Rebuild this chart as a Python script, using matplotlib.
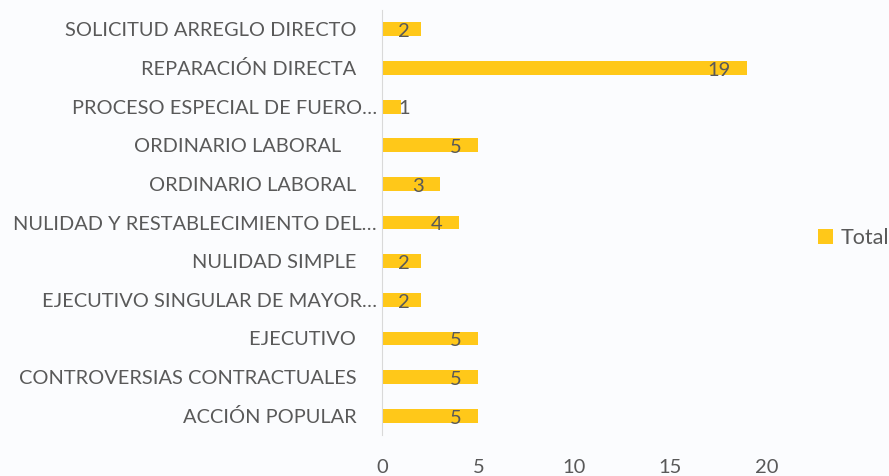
import numpy as np
import matplotlib.pyplot as plt

# datos (de arriba hacia abajo)
categorias = [
    "SOLICITUD ARREGLO DIRECTO    ",
    "REPARACIÓN DIRECTA    ",
    "PROCESO ESPECIAL DE FUERO…",
    "ORDINARIO LABORAL       ",
    "ORDINARIO LABORAL    ",
    "NULIDAD Y RESTABLECIMIENTO DEL…",
    "NULIDAD SIMPLE    ",
    "EJECUTIVO SINGULAR DE MAYOR…",
    "EJECUTIVO    ",
    "CONTROVERSIAS CONTRACTUALES    ",
    "ACCIÓN POPULAR    ",
]
totales = [2, 19, 1, 5, 3, 4, 2, 2, 5, 5, 5]
ticks_x = [0, 5, 10, 15, 20]

amarillo = "#FFC819"
gris = "#595959"
fondo = "#FBFCFE"

plt.rcParams['font.family'] = ['Lato', 'DejaVu Sans']

fig = plt.figure(figsize=(8.89, 4.76), dpi=100, facecolor=fondo)
ax = fig.add_axes([0.43, 0.086, 0.432, 0.893], facecolor=fondo)

y = np.arange(len(categorias))
ax.barh(y, totales, height=0.36, color=amarillo, label="Total")

# etiquetas de valor dentro del extremo (alineadas a la derecha)
for yi, v in zip(y, totales):
    ax.text(max(v - 0.85, 1.45), yi + 0.06, str(v), ha='right', va='center',
            fontsize=14.5, color=gris)

ax.set_yticks(y)
ax.set_yticklabels(categorias, fontsize=14.4, color=gris)
ax.set_ylim(len(categorias) - 0.5, -0.5)
ax.set_xlim(0, 20)
ax.set_xticks(ticks_x)
ax.set_xticklabels([str(t) for t in ticks_x], fontsize=14.5, color=gris)
ax.tick_params(axis='both', length=0)
ax.tick_params(axis='x', pad=17)
ax.tick_params(axis='y', pad=4)

for s in ['top', 'right', 'bottom']:
    ax.spines[s].set_visible(False)
ax.spines['left'].set_color('#D9D9D9')

fig.legend(loc='center left', bbox_to_anchor=(0.92, 0.5), frameon=False,
           fontsize=15.5, labelcolor=gris, handlelength=0.7, handleheight=0.7,
           handletextpad=0.35, borderpad=0, borderaxespad=0)

fig.savefig("out.png", dpi=100, facecolor=fondo)
